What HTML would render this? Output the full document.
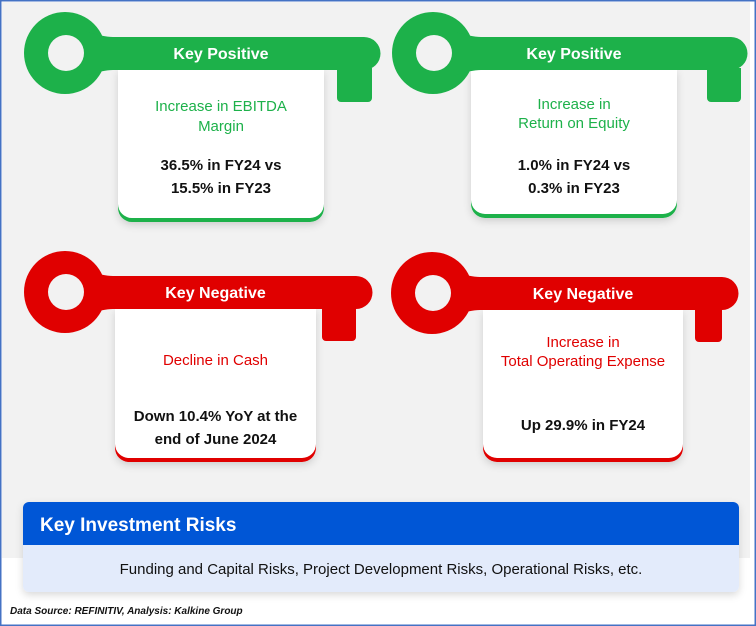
<!DOCTYPE html>
<html><head><meta charset="utf-8"><style>
html,body{margin:0;padding:0;background:#fff}
svg{display:block;font-family:"Liberation Sans",sans-serif}
</style></head><body>
<svg width="756" height="626" viewBox="0 0 756 626">
<defs><filter id="sh" x="-20%" y="-20%" width="140%" height="140%"><feDropShadow dx="0" dy="3" stdDeviation="4" flood-color="#000" flood-opacity="0.15"/></filter></defs>
<rect x="0" y="0" width="756" height="626" fill="#fff"/>
<rect x="2" y="2" width="748" height="556" fill="#f2f2f2"/>
<g id="keys"></g>
<g filter="url(#sh)">
<path d="M23 545 V508 a6 6 0 0 1 6 -6 H733 a6 6 0 0 1 6 6 V545 Z" fill="#0356d6"/>
<path d="M23 545 H739 V586 a6 6 0 0 1 -6 6 H29 a6 6 0 0 1 -6 -6 Z" fill="#e3ebfb"/>
</g>
<text x="40" y="531" fill="#fff" font-size="19" font-weight="bold">Key Investment Risks</text>
<text x="381" y="574" fill="#111" font-size="15" text-anchor="middle">Funding and Capital Risks, Project Development Risks, Operational Risks, etc.</text>
<text x="10" y="614" fill="#111" font-size="10" font-weight="bold" font-style="italic">Data Source: REFINITIV, Analysis: Kalkine Group</text>
<rect x="0.75" y="0.75" width="754.5" height="624.5" fill="none" stroke="#4472c4" stroke-width="1.5"/>
</svg>
<script>
const titles=["Key Positive","Key Positive","Key Negative","Key Negative"];
const subtitles=[["Increase in EBITDA","Margin"],["Increase in","Return on Equity"],["Decline in Cash"],["Increase in","Total Operating Expense"]];
const values=[["36.5% in FY24 vs","15.5% in FY23"],["1.0% in FY24 vs","0.3% in FY23"],["Down 10.4% YoY at the","end of June 2024"],["Up 29.9% in FY24"]];
const geo=[
 {cx:65,cy:53,end:380,t0:337,t1:372,c0:118,c1:324,bot:222,col:"#1db14a",sub:[106,126],val:[165,188]},
 {cx:433,cy:53,end:747,t0:707,t1:741,c0:471,c1:677,bot:218,col:"#1db14a",sub:[104,123],val:[165,188]},
 {cx:65,cy:292,end:372,t0:322,t1:356,c0:115,c1:316,bot:462,col:"#e00000",sub:[360],val:[416,439]},
 {cx:432,cy:293,end:738,t0:695,t1:722,c0:483,c1:683,bot:462,col:"#e00000",sub:[342,361],val:[425]}];
const NS="http://www.w3.org/2000/svg";
const g=document.getElementById('keys');
function mk(t,a,p){const e=document.createElementNS(NS,t);for(const k in a)e.setAttribute(k,a[k]);(p||g).appendChild(e);return e;}
geo.forEach((k,i)=>{
 const grp=mk('g',{});
 
 
 const by0=k.cy-16,by1=k.cy+17;
 const card=mk('path',{d:`M${k.c0} ${by1} H${k.c1} V${k.bot-14} a14 14 0 0 1 -14 14 H${k.c0+14} a14 14 0 0 1 -14 -14 Z`,fill:"#fff",filter:"url(#sh)"},grp);
 
 
 mk('path',{d:`M${k.c0} ${k.bot-18} a14 14 0 0 0 14 14 H${k.c1-14} a14 14 0 0 0 14 -14 V${k.bot-14} a14 14 0 0 1 -14 14 H${k.c0+14} a14 14 0 0 1 -14 -14 Z`,fill:k.col},grp);
 const key=mk('g',{fill:k.col},grp);
 
 
 mk('circle',{cx:k.cx,cy:k.cy,r:41},key);
 mk('path',{d:`M${k.cx+20} ${by0-6} Q${k.cx+38} ${by0} ${k.cx+48} ${by0} H${k.end-16} a16.5 16.5 0 0 1 0 33 H${k.cx+48} Q${k.cx+38} ${by1} ${k.cx+20} ${by1+6} Z`},key);
 mk('path',{d:`M${k.t0} ${by1-2} H${k.t1} V${k.cy+45} a4 4 0 0 1 -4 4 H${k.t0+4} a4 4 0 0 1 -4 -4 Z`},key);
 mk('circle',{cx:k.cx+1,cy:k.cy,r:18,fill:"#f2f2f2"},grp);
 const mid=(k.c0+k.c1)/2;
 const tt=mk('text',{x:mid,y:k.cy+6,fill:"#fff","font-size":16,"font-weight":"bold","text-anchor":"middle"},grp);
 tt.textContent=titles[i];
 
 
 subtitles[i].forEach((s,j)=>{
  const t=mk('text',{x:mid,y:k.sub[j]+5,fill:k.col,"font-size":15,"text-anchor":"middle"},grp);
  t.textContent=s;
  
  
 });
 values[i].forEach((s,j)=>{
  const t=mk('text',{x:mid,y:k.val[j]+5,fill:"#111","font-size":15,"font-weight":"bold","text-anchor":"middle"},grp);
  t.textContent=s;
  
  
 });
});
</script>
</body></html>
